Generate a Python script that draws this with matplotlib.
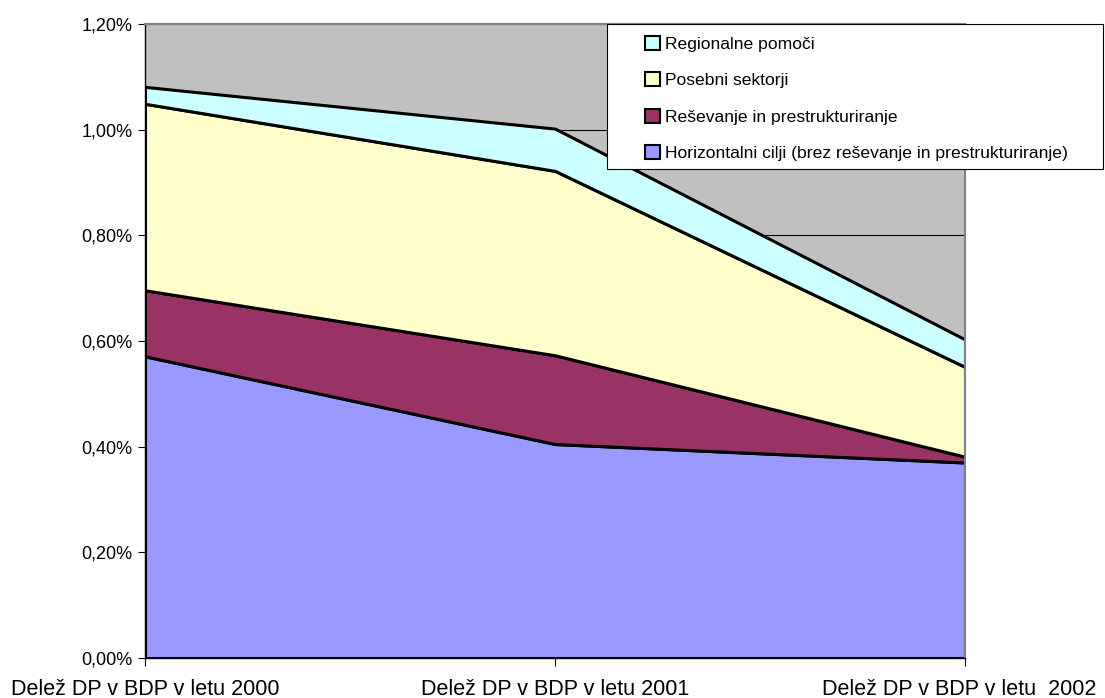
import numpy as np
import matplotlib.pyplot as plt
import matplotlib.transforms as mtransforms
from matplotlib.ticker import FuncFormatter, MultipleLocator
from matplotlib.patches import Patch, Rectangle

plt.rcParams['font.family'] = ['Liberation Sans', 'DejaVu Sans']

# data (share of GDP, %)
kategorije = ["Delež DP v BDP v letu 2000", "Delež DP v BDP v letu 2001", "Delež DP v BDP v letu  2002"]
horizontalni = [0.571, 0.405, 0.370]
resevanje = [0.125, 0.168, 0.011]
posebni = [0.353, 0.349, 0.170]
regionalne = [0.032, 0.080, 0.052]

imena = ["Horizontalni cilji (brez reševanje in prestrukturiranje)",
         "Reševanje in prestrukturiranje",
         "Posebni sektorji",
         "Regionalne pomoči"]
barve = ["#9999FF", "#993366", "#FFFFCC", "#CCFFFF"]

W, H = 1105, 698
fig = plt.figure(figsize=(W/100, H/100), dpi=100)
ax = fig.add_axes([145/W, 40/H, 820/W, 634/H])
ax.set_facecolor("#C0C0C0")

x = np.arange(len(kategorije))
ax.stackplot(x, horizontalni, resevanje, posebni, regionalne,
             colors=barve, edgecolor="black", linewidth=2.2, zorder=2)

ax.set_xlim(0, 2)
ax.set_ylim(0, 1.2)
ax.yaxis.set_major_locator(MultipleLocator(0.2))
ax.yaxis.set_major_formatter(FuncFormatter(lambda v, p: ("%.2f%%" % v).replace(".", ",")))
ax.set_xticks(x)
ax.set_xticklabels(kategorije)
ax.grid(axis="y", color="black", linewidth=0.8, zorder=1)
ax.set_axisbelow(True)

ax.tick_params(axis="y", labelsize=13, length=5, direction="out", pad=4)
ax.tick_params(axis="x", labelsize=15.5, length=6, direction="out", pad=9)

# last label sits a bit to the left so it stays inside the figure
lab = ax.get_xticklabels()[-1]
lab.set_transform(lab.get_transform() + mtransforms.ScaledTranslation(-0.06, 0, fig.dpi_scale_trans))

for s in ["top", "right"]:
    ax.spines[s].set_color("#808080")
    ax.spines[s].set_linewidth(1.5)
for s in ["left", "bottom"]:
    ax.spines[s].set_color("black")
    ax.spines[s].set_linewidth(1.0)

# legend box
fig.patches.append(Rectangle((607/W, 1 - 169/H), (1103-607)/W, (169-24)/H,
                             transform=fig.transFigure, facecolor="white",
                             edgecolor="black", linewidth=0.8, zorder=5))
handles = [Patch(facecolor=c, edgecolor="black", linewidth=1.5, label=n) for c, n in zip(barve, imena)]
leg = fig.legend(handles[::-1], imena[::-1], loc="upper left",
                 bbox_to_anchor=(645/W, 1 - 36/H), fontsize=12.6,
                 frameon=False, handlelength=0.86, handleheight=0.86, handletextpad=0.28,
                 labelspacing=1.16, borderpad=0, borderaxespad=0)
leg.set_zorder(6)

fig.savefig("out.png", dpi=100)
